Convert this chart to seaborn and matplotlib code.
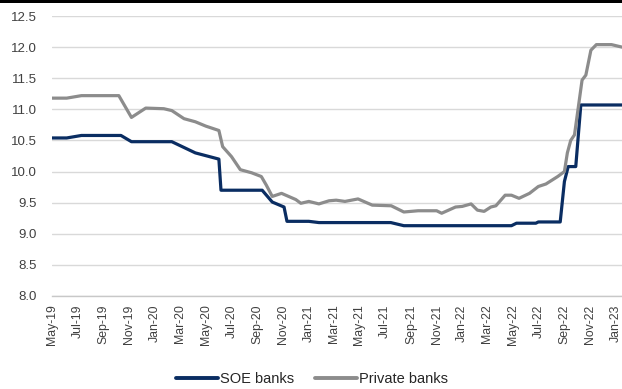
import pandas as pd
import matplotlib
matplotlib.use("Agg")
import matplotlib.pyplot as plt
import matplotlib.dates as mdates
from matplotlib.patches import Rectangle
import seaborn as sns

# Lending rates (%), state-owned vs private banks
soe_dates = [
    "2019-05-01", "2019-06-05", "2019-07-10", "2019-10-12", "2019-11-06",
    "2020-02-10", "2020-04-06", "2020-06-01", "2020-06-06", "2020-09-12",
    "2020-10-06", "2020-11-03", "2020-11-10", "2021-01-01", "2021-01-25",
    "2021-07-15", "2021-08-15", "2022-04-28", "2022-05-10", "2022-06-25",
    "2022-07-01", "2022-08-22", "2022-09-01", "2022-09-10", "2022-09-28",
    "2022-10-10", "2023-01-16",
]
soe_rates = [
    10.54, 10.54, 10.58, 10.58, 10.48,
    10.48, 10.30, 10.20, 9.70, 9.70,
    9.51, 9.43, 9.20, 9.20, 9.18,
    9.18, 9.13, 9.13, 9.17, 9.17,
    9.19, 9.19, 9.84, 10.08, 10.08,
    11.07, 11.07,
]

private_dates = [
    "2019-05-01", "2019-06-05", "2019-07-10", "2019-10-07", "2019-11-06",
    "2019-12-10", "2020-01-22", "2020-02-10", "2020-03-10", "2020-04-06",
    "2020-05-01", "2020-06-01", "2020-06-10", "2020-07-01", "2020-07-22",
    "2020-08-18", "2020-09-10", "2020-09-22", "2020-10-06", "2020-10-28",
    "2020-12-01", "2020-12-13", "2021-01-01", "2021-01-25", "2021-02-18",
    "2021-03-07", "2021-03-28", "2021-04-28", "2021-06-01", "2021-07-16",
    "2021-08-15", "2021-09-18", "2021-11-01", "2021-11-13", "2021-12-16",
    "2022-01-01", "2022-01-22", "2022-02-06", "2022-02-22", "2022-03-10",
    "2022-03-22", "2022-04-13", "2022-04-28", "2022-05-16", "2022-06-10",
    "2022-07-01", "2022-07-19", "2022-08-16", "2022-09-01", "2022-09-08",
    "2022-09-16", "2022-09-25", "2022-10-13", "2022-10-22", "2022-11-03",
    "2022-11-16", "2022-12-22", "2023-01-16",
]
private_rates = [
    11.18, 11.18, 11.22, 11.22, 10.87,
    11.02, 11.01, 10.98, 10.85, 10.80,
    10.73, 10.66, 10.40, 10.24, 10.03,
    9.98, 9.92, 9.78, 9.60, 9.65,
    9.55, 9.49, 9.52, 9.48, 9.53,
    9.54, 9.52, 9.56, 9.46, 9.45,
    9.35, 9.37, 9.37, 9.33, 9.43,
    9.44, 9.48, 9.38, 9.36, 9.43,
    9.45, 9.62, 9.62, 9.57, 9.65,
    9.76, 9.80, 9.92, 10.00, 10.30,
    10.50, 10.59, 11.47, 11.55, 11.95,
    12.04, 12.04, 12.00,
]

series_names = ["SOE banks", "Private banks"]
y_ticks = [8.0, 8.5, 9.0, 9.5, 10.0, 10.5, 11.0, 11.5, 12.0, 12.5]

df = pd.concat([
    pd.DataFrame({"date": pd.to_datetime(soe_dates), "rate": soe_rates, "bank": series_names[0]}),
    pd.DataFrame({"date": pd.to_datetime(private_dates), "rate": private_rates, "bank": series_names[1]}),
], ignore_index=True)

sns.set_style("white")
plt.rcParams["font.family"] = ["Liberation Sans", "DejaVu Sans"]

W, H = 622, 389
fig = plt.figure(figsize=(W / 100, H / 100), dpi=100)
ax = fig.add_axes([52 / W, 1 - 296 / H, (W - 52) / W, (296 - 16) / H])

palette = {"SOE banks": "#0a2d62", "Private banks": "#8c8c8c"}
sns.lineplot(data=df, x="date", y="rate", hue="bank", hue_order=series_names,
             palette=palette, linewidth=2.3, ax=ax, legend=False)

ax.set_ylim(8.0, 12.5)
ax.set_yticks(y_ticks)
ax.set_yticklabels([f"{v:.1f}" for v in y_ticks])
ax.set_xlim(pd.Timestamp("2019-05-01"), pd.Timestamp("2023-01-16"))
ax.xaxis.set_major_locator(mdates.MonthLocator(bymonth=[1, 3, 5, 7, 9, 11]))
ax.xaxis.set_major_formatter(mdates.DateFormatter("%b-%y"))

ax.grid(axis="y", color="#d9d9d9", linewidth=1.0)
ax.set_axisbelow(True)
for side in ["left", "right", "top"]:
    ax.spines[side].set_visible(False)
ax.spines["bottom"].set_color("#c8c8c8")
ax.spines["bottom"].set_linewidth(1.0)

ax.tick_params(axis="x", which="major", direction="out", length=4, width=0.8,
               color="#c8c8c8", labelsize=8.8, labelcolor="#404040",
               rotation=90, pad=2)
ax.tick_params(axis="y", length=0, labelsize=9.5, labelcolor="#404040", pad=11)
ax.set_xlabel("")
ax.set_ylabel("")

handles = [plt.Line2D([], [], color=palette[n], linewidth=2.8) for n in series_names]
fig.legend(handles, series_names, loc="center", bbox_to_anchor=(0.502, 1 - 379 / H),
           ncol=2, frameon=False, fontsize=10.5, handlelength=2.9, handletextpad=0.15,
           columnspacing=1.4, labelcolor="#262626")

fig.add_artist(Rectangle((0, 1 - 2.5 / H), 1, 2.5 / H, transform=fig.transFigure,
                         color="black", linewidth=0))

fig.savefig("out.png", dpi=100)
